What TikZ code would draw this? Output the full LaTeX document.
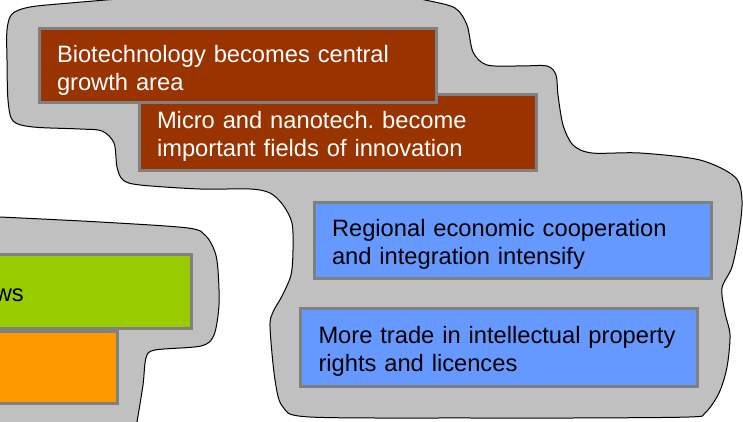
\documentclass[tikz,border=0pt]{standalone}
\usepackage{fontspec}
\setmainfont{Liberation Sans}
\frenchspacing
\definecolor{blobgray}{HTML}{C0C0C0}
\definecolor{boxgray}{HTML}{808080}
\definecolor{brownfill}{HTML}{993300}
\definecolor{bluefill}{HTML}{6699FF}
\definecolor{greenfill}{HTML}{99CC00}
\definecolor{orangefill}{HTML}{FF9900}
\tikzset{
  blob/.style={fill=blobgray, draw=black, line width=1pt},
  box/.style={draw=boxgray, line width=3pt, outer sep=0pt, anchor=north west,
    inner xsep=18pt, text width=361pt, minimum width=397pt, align=left,
    font=\fontsize{23.7}{28}\selectfont,
    execute at begin node={\hyphenpenalty=10000\rule{0pt}{25pt}}}
}
\begin{document}
\begin{tikzpicture}[x=1pt, y=-1pt]
  \useasboundingbox (0,0) rectangle (743,422);

  \filldraw[blob] plot[smooth cycle, tension=0.5] coordinates {
    (7,30) (12,14) (30,7) (70,3) (130,-2) (250,-12) (380,-8) (425,0)
    (455,8) (467,25) (473,52) (487,65) (520,66) (547,66) (556,75) (558,95)
    (563,125) (573,145) (592,153) (640,153) (700,160) (735,177) (742,200)
    (739,233) (732,267) (722,288) (725,313) (730,335) (727,367) (719,393)
    (705,413) (689,417) (572,418) (472,418) (310,417) (283,407) (275,380)
    (270,327) (273,312) (282,296) (291,275) (293,250) (292,223) (283,205)
    (270,193) (250,189) (200,189) (140,185) (123,180) (117,167) (114,143)
    (102,131) (80,129) (33,127) (13,121) (8,100) (7,60)};
  \filldraw[blob] (-30,445) -- (-30,216) -- plot[smooth, tension=0.5] coordinates {
    (0,217) (100,222) (188,228) (206,236) (215,252) (218,270) (219,305)
    (214,335) (201,346) (155,350) (146,358) (143,385) (137,422) (133,445)} -- cycle;

  \node[box, fill=brownfill, text=white, minimum height=75pt] (micro) at (139,95)
    {Micro and nanotech. become\\important fields of innovation};
  \node[box, fill=brownfill, text=white, minimum height=74pt] (bio) at (39,29)
    {Biotechnology becomes central\\growth area};
  \node[box, fill=bluefill, minimum height=76pt] (regional) at (314,202)
    {Regional economic cooperation\\and integration intensify};
  \node[box, fill=bluefill, minimum height=78pt] (trade) at (300.5,308)
    {More trade in intellectual property\\rights and licences};

  \node[box, fill=greenfill, minimum height=74pt] (green) at (-206,254) {};
  \node[box, fill=orangefill, minimum height=72pt] (orange) at (-280,331.5) {};
  \node[anchor=base east, inner sep=0pt, font=\fontsize{23.7}{28}\selectfont] (greenlabel) at (24,301.7) {ws};
\end{tikzpicture}
\end{document}
